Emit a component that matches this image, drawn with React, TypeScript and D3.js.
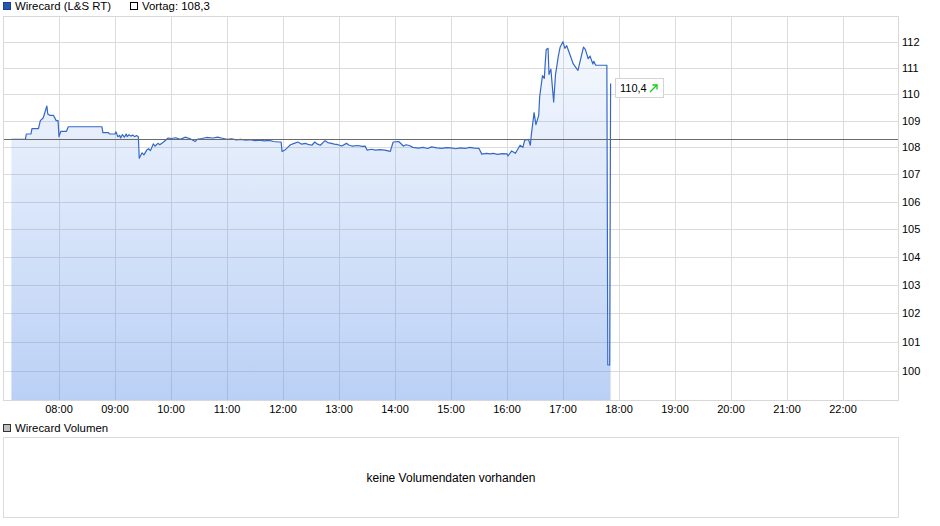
import React from "react";
import * as d3 from "d3";

const times: string[] = [
  "07:09","07:24","07:25","07:30","07:31","07:38","07:40","07:43","07:47","07:48","07:50","07:54","07:57","07:59",
  "08:00","08:02","08:08","08:10","08:46","08:47","08:53","08:54","09:00","09:01","09:03","09:05","09:06","09:08",
  "09:10","09:12","09:13","09:15","09:17","09:19","09:21","09:23","09:25","09:26","09:29","09:31","09:34","09:36",
  "09:38","09:41","09:43","09:46","09:48","09:52","09:57","10:00","10:05","10:10","10:15","10:20","10:26","10:28",
  "10:33","10:38","10:45","10:50","10:55","11:00","11:05","11:10","11:15","11:20","11:25","11:30","11:35","11:40",
  "11:45","11:50","11:55","11:58","11:59","12:02","12:05","12:08","12:12","12:16","12:20","12:24","12:28","12:31",
  "12:34","12:37","12:40","12:45","12:48","12:52","12:55","12:59","13:03","13:08","13:11","13:14","13:20","13:25",
  "13:28","13:30","13:35","13:39","13:44","13:49","13:55","13:58","14:04","14:09","14:12","14:16","14:19","14:25",
  "14:30","14:35","14:39","14:45","14:50","14:55","15:00","15:05","15:10","15:15","15:20","15:25","15:30","15:33",
  "15:38","15:42","15:45","15:50","15:55","16:00","16:01","16:05","16:09","16:14","16:17","16:19","16:23","16:25",
  "16:26","16:29","16:31","16:34","16:35","16:38","16:40","16:41","16:42","16:44","16:45","16:47","16:50","16:52",
  "16:55","16:57","17:00","17:02","17:04","17:07","17:11","17:16","17:18","17:22","17:24","17:27","17:29","17:32",
  "17:33","17:35","17:39","17:47","17:48","17:50","17:51"
];

const values: number[] = [
  108.3,108.3,108.5,108.5,108.7,108.7,109.0,109.1,109.55,109.25,109.2,109.2,109.0,109.0,
  108.4,108.6,108.6,108.77,108.77,108.55,108.55,108.5,108.5,108.58,108.4,108.45,108.35,108.48,
  108.38,108.5,108.4,108.47,108.42,108.46,108.4,108.44,108.4,107.6,107.8,107.72,107.9,107.95,
  107.88,108.13,108.05,108.15,108.1,108.2,108.35,108.33,108.36,108.3,108.38,108.33,108.22,108.3,
  108.33,108.37,108.35,108.38,108.34,108.3,108.32,108.28,108.3,108.27,108.29,108.25,108.27,108.24,
  108.26,108.22,108.2,108.2,107.85,107.9,108.0,108.1,108.15,108.2,108.12,108.15,108.1,108.08,
  108.2,108.12,108.08,108.25,108.18,108.15,108.12,108.1,108.05,108.15,108.08,108.05,108.07,108.04,
  108.05,107.9,107.93,107.9,107.92,107.9,107.85,108.2,108.22,108.05,108.1,108.06,108.0,107.97,
  108.0,107.96,108.02,107.98,107.96,107.99,107.98,107.95,107.98,107.96,108.0,107.97,107.96,107.75,
  107.78,107.76,107.78,107.74,107.77,107.76,107.68,107.87,107.78,108.08,108.0,108.27,108.3,108.08,
  108.45,109.3,108.85,109.2,109.9,110.7,110.6,111.2,111.7,111.75,110.75,110.95,109.7,110.75,
  111.45,111.8,112.0,111.75,111.85,111.55,111.15,110.9,111.2,111.8,111.7,111.35,111.45,111.15,
  111.25,111.1,111.1,111.1,100.2,100.2,110.4
];

const previousClose = 108.3;
const yTicks: number[] = [100, 101, 102, 103, 104, 105, 106, 107, 108, 109, 110, 111, 112];
const xTickLabels: string[] = ["08:00","09:00","10:00","11:00","12:00","13:00","14:00","15:00","16:00","17:00","18:00","19:00","20:00","21:00","22:00"];
const seriesName = "Wirecard (L&S RT)";
const volumeName = "Wirecard Volumen";
const noVolumeText = "keine Volumendaten vorhanden";

const W = 940, H = 526;
const L = 3, R = 898.5, T = 16.5, B = 400.5;
const FONT = "Arial, 'Liberation Sans', sans-serif";

const parse = d3.timeParse("%H:%M");
const fmt = (v: number) => v.toFixed(1).replace(".", ",");

export default function App() {
  const x = d3.scaleTime().domain([parse("07:00")!, parse("23:00")!]).range([3, 899]);
  const y = d3.scaleLog().domain([99, 113]).range([400, 16]);

  const data = times.map((t, i) => ({ t: parse(t)!, v: values[i] }));
  const line = d3.line<{ t: Date; v: number }>().x(d => x(d.t)).y(d => y(d.v));
  const area = d3.area<{ t: Date; v: number }>().x(d => x(d.t)).y0(400).y1(d => y(d.v));

  const last = data[data.length - 1];
  const lx = x(last.t), ly = y(last.v);
  const crisp = (v: number) => Math.round(v) + 0.5;
  const yPrev = crisp(y(previousClose));

  return (
    <svg width={W} height={H} style={{ position: "absolute", left: 0, top: 0, display: "block", background: "#fff" }}
      fontFamily={FONT}>
      <defs>
        <linearGradient id="fillGrad" gradientUnits="userSpaceOnUse" x1="0" y1="16" x2="0" y2="400">
          <stop offset="0" stopColor="#5a8fe8" stopOpacity={0.03} />
          <stop offset="1" stopColor="#5a8fe8" stopOpacity={0.42} />
        </linearGradient>
        <clipPath id="plotClip"><rect x={L} y={T} width={R - L} height={B - T} /></clipPath>
      </defs>

      {/* legend */}
      <rect x={3.5} y={2.5} width={7} height={7} fill="#2457b5" stroke="#1a3f85" />
      <text x={15} y={10} fontSize={11.4} fill="#000">{seriesName}</text>
      <rect x={130.5} y={2.5} width={7} height={7} fill="#fff" stroke="#000" />
      <text x={142} y={10} fontSize={11.4} fill="#000">{"Vortag: " + fmt(previousClose)}</text>

      {/* grid */}
      {yTicks.map(v => (
        <line key={"h" + v} x1={L} x2={R} y1={crisp(y(v))} y2={crisp(y(v))} stroke="#dcdcdc" />
      ))}
      {xTickLabels.map(s => (
        <line key={"v" + s} x1={crisp(x(parse(s)!))} x2={crisp(x(parse(s)!))} y1={T} y2={B} stroke="#dcdcdc" />
      ))}

      {/* area + line */}
      <g clipPath="url(#plotClip)">
        <path d={area(data)!} fill="url(#fillGrad)" />
        <path d={line(data)!} fill="none" stroke="#3468c8" strokeWidth={1.2} strokeLinejoin="round" />
        <line x1={L} x2={R} y1={yPrev} y2={yPrev} stroke="#6a6a6a" />
      </g>

      {/* frame */}
      <rect x={L + 0.5} y={T} width={R - L - 0.5} height={B - T} fill="none" stroke="#d8d8d8" />

      {/* y labels */}
      {yTicks.map(v => (
        <text key={"yl" + v} x={902} y={y(v) + 4} fontSize={11} fill="#000">{v}</text>
      ))}
      {/* x labels */}
      {xTickLabels.map(s => (
        <text key={"xl" + s} x={x(parse(s)!)} y={413} fontSize={11} fill="#000" textAnchor="middle">{s}</text>
      ))}

      {/* last price box */}
      <rect x={Math.round(lx) + 4.5} y={Math.round(ly) - 5.5} width={48} height={19} fill="#fff" stroke="#d4d4d4" />
      <text x={Math.round(lx) + 9} y={Math.round(ly) + 8} fontSize={11} fill="#000">{fmt(last.v)}</text>
      <g stroke="#11cc11" strokeWidth={1.3} fill="none">
        <line x1={Math.round(lx) + 39} y1={Math.round(ly) + 8} x2={Math.round(lx) + 46} y2={Math.round(ly) + 1} />
        <polyline points={`${Math.round(lx) + 41.5},${Math.round(ly) + 1} ${Math.round(lx) + 46},${Math.round(ly) + 1} ${Math.round(lx) + 46},${Math.round(ly) + 5.5}`} />
      </g>

      {/* volume panel */}
      <rect x={3.5} y={424.5} width={7} height={7} fill="#c0c0c0" stroke="#333" />
      <text x={15} y={432} fontSize={11.4} fill="#000">{volumeName}</text>
      <rect x={3.5} y={437.5} width={895} height={80} fill="#fff" stroke="#dcdcdc" />
      <text x={451} y={482} fontSize={12} fill="#000" textAnchor="middle">{noVolumeText}</text>
    </svg>
  );
}
